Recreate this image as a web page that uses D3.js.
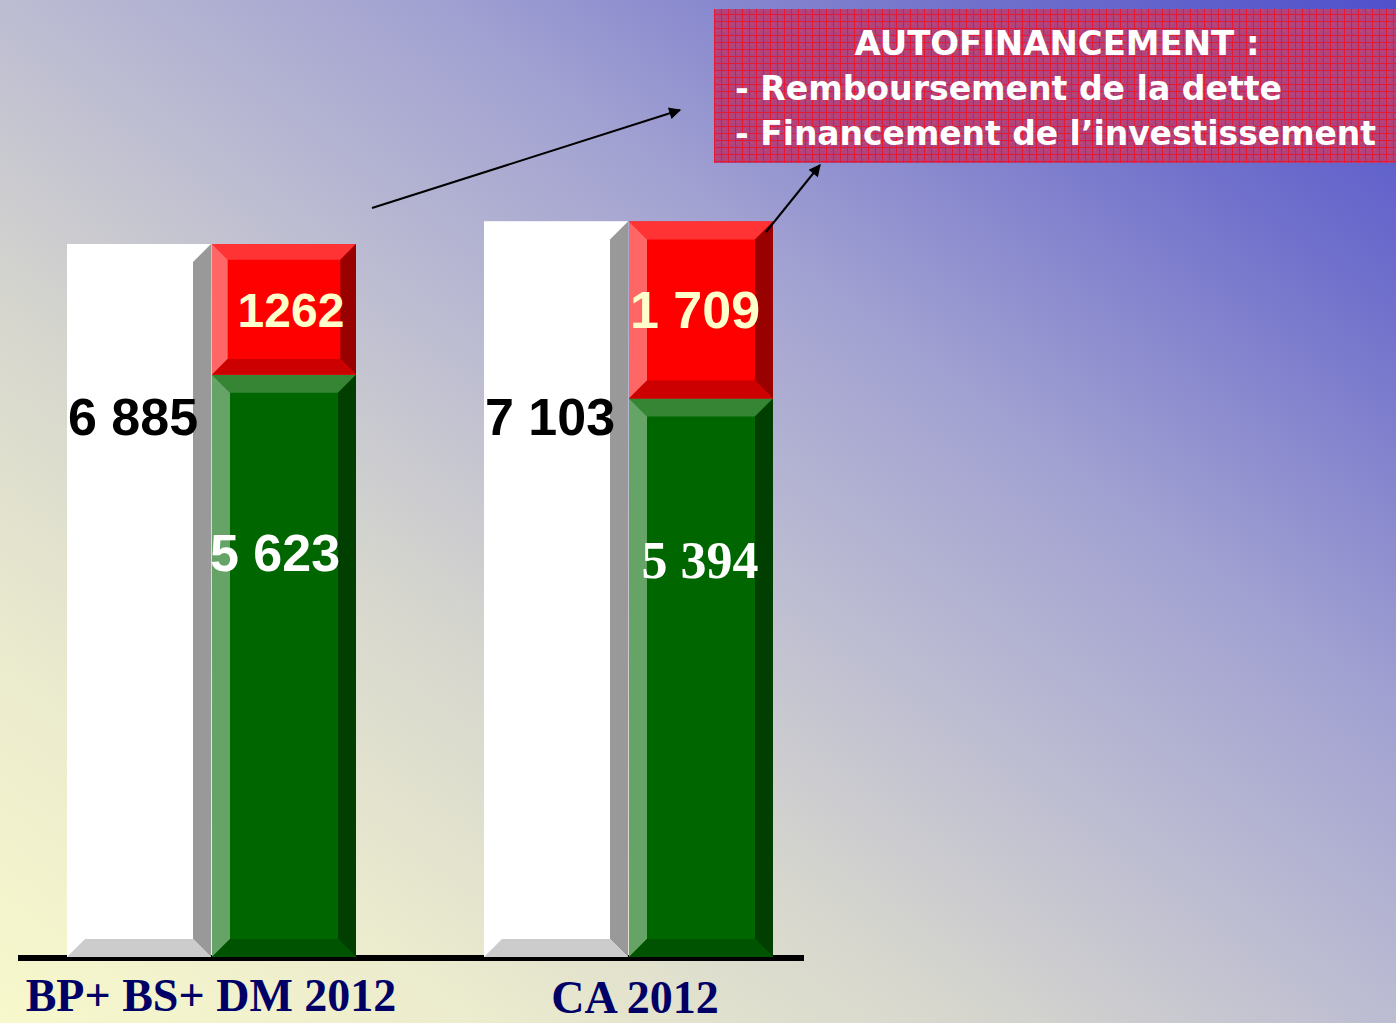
<!DOCTYPE html>
<html lang="fr">
	<head>
		<meta charset="utf-8">
		<title>autofinancement 2012</title>
		<script type="text/javascript" src="https://d3js.org/d3.v7.min.js"></script>
		<style type="text/css">
            body{margin:0;padding:0;overflow:hidden;}
            svg{display:block;}
		</style>
	</head>
	<body>
    <div id="chart1"></div>
		<script type="text/javascript">
            // data
            var categories = ["BP+ BS+ DM 2012", "CA 2012"]
            var totalValues = [6885, 7103]        // white bars
            var greenValues = [5623, 5394]        // bottom of the stacked bar
            var redValues = [1262, 1709]          // top of the stacked bar
            var totalLabels = ["6 885", "7 103"]
            var greenLabels = ["5 623", "5 394"]
            var redLabels = ["1262", "1 709"]
            var boxLines = ["AUTOFINANCEMENT :", "- Remboursement de la dette", "- Financement de l\u2019investissement"]

            var w = 1396
            var h = 1023
            var base = 957

            var svg = d3.select("#chart1")
                        .append("svg")
                        .attr("width", w)
                        .attr("height", h)

            var defs = svg.append("defs")

            // slide background, pale yellow bottom left to blue top right
            var bg = defs.append("linearGradient")
                .attr("id", "bg")
                .attr("x1", 0).attr("y1", 1).attr("x2", 1).attr("y2", 0)
            var stops = [[0, "#f8f8cc"], [0.17, "#ececce"], [0.35, "#d6d6ce"], [0.5, "#bcbcd2"], [0.65, "#a2a2d2"], [0.85, "#7070cc"], [1, "#5050cc"]]
            stops.forEach(function(s){
                bg.append("stop").attr("offset", s[0]).attr("stop-color", s[1])
            })

            // hatched fill of the note box
            var pat = defs.append("pattern")
                .attr("id", "hatch")
                .attr("patternUnits", "userSpaceOnUse")
                .attr("width", 7).attr("height", 7)
            pat.append("rect").attr("width", 7).attr("height", 7).attr("fill", "#b0427c")
            pat.append("rect").attr("x", 2).attr("y", 2).attr("width", 2).attr("height", 2).attr("fill", "#bc4676")
            pat.append("rect").attr("x", 5).attr("y", 5).attr("width", 1).attr("height", 1).attr("fill", "#9c4c98")
            pat.append("rect").attr("x", 0).attr("y", 0).attr("width", 7).attr("height", 1).attr("fill", "#e41a34")
            pat.append("rect").attr("x", 0).attr("y", 0).attr("width", 1).attr("height", 7).attr("fill", "#e41a34")

            defs.append("marker")
                .attr("id", "arrow")
                .attr("viewBox", "0 0 10 10")
                .attr("refX", 9).attr("refY", 5)
                .attr("markerWidth", 16).attr("markerHeight", 12)
                .attr("markerUnits", "userSpaceOnUse")
                .attr("orient", "auto")
                .append("path")
                .attr("d", "M0,0 L10,5 L0,10 z")
                .attr("fill", "#000")

            svg.append("rect")
                .attr("width", w).attr("height", h)
                .attr("fill", "url(#bg)")

            // scales
            var yScale = d3.scaleLinear().domain([0, 9000]).range([base, 25])
            var xScale = d3.scaleBand().domain(categories).range([67, 67 + 417 * 2])
            var inner = d3.scaleBand().domain(["total", "stack"]).range([0, 290])
            var bw = inner.bandwidth() - 1

            // baseline
            svg.append("rect")
                .attr("x", 18).attr("y", 955)
                .attr("width", 786).attr("height", 6)
                .attr("fill", "#000")

            // bevelled bar like the powerpoint 3D look
            function bevelBar(g, x, y0, y1, col){
                var bh = y1 - y0
                var b = Math.min(18, bh * 0.12)
                var x1 = x + bw
                var faces = [
                    [[x, y0], [x1, y0], [x1 - b, y0 + b], [x + b, y0 + b], col.top],
                    [[x, y0], [x + b, y0 + b], [x + b, y1 - b], [x, y1], col.left],
                    [[x1, y0], [x1, y1], [x1 - b, y1 - b], [x1 - b, y0 + b], col.right],
                    [[x, y1], [x + b, y1 - b], [x1 - b, y1 - b], [x1, y1], col.bottom]
                ]
                g.append("rect")
                    .attr("x", x).attr("y", y0)
                    .attr("width", bw).attr("height", bh)
                    .attr("fill", col.face)
                faces.forEach(function(f){
                    g.append("path")
                        .attr("d", "M" + f.slice(0, 4).join("L") + "Z")
                        .attr("fill", f[4])
                })
            }

            var white = {face:"#ffffff", top:"#ffffff", left:"#ffffff", right:"#999999", bottom:"#cccccc"}
            var red = {face:"#ff0000", top:"#ff3333", left:"#ff6666", right:"#990000", bottom:"#cc0000"}
            var green = {face:"#006600", top:"#358535", left:"#66a366", right:"#003f00", bottom:"#005300"}

            var bars = svg.append("g").attr("class", "bars")
            categories.forEach(function(c, i){
                var xa = xScale(c) + inner("total")
                var xb = xScale(c) + inner("stack")
                bevelBar(bars, xa, yScale(totalValues[i]), yScale(0), white)
                bevelBar(bars, xb, yScale(greenValues[i]), yScale(0), green)
                bevelBar(bars, xb, yScale(greenValues[i] + redValues[i]), yScale(greenValues[i]), red)
            })

            // value labels
            var labels = svg.append("g").attr("class", "labels")
            categories.forEach(function(c, i){
                var xa = xScale(c) + inner("total")
                var xb = xScale(c) + inner("stack")
                labels.append("text")
                    .attr("x", xa + 1).attr("y", 435)
                    .attr("font-family", "Liberation Sans, Arial, sans-serif")
                    .attr("font-weight", "bold").attr("font-size", 52)
                    .attr("fill", "#000")
                    .text(totalLabels[i])
                var redMid = (yScale(greenValues[i] + redValues[i]) + yScale(greenValues[i])) / 2
                labels.append("text")
                    .attr("x", xb + bw / 2 + (i == 0 ? 7 : -6)).attr("y", redMid + 18)
                    .attr("text-anchor", "middle")
                    .attr("font-family", "Liberation Sans, Arial, sans-serif")
                    .attr("font-weight", "bold").attr("font-size", i == 0 ? 48 : 52)
                    .attr("fill", "#ffffcc")
                    .text(redLabels[i])
                labels.append("text")
                    .attr("x", xb + bw / 2 + (i == 0 ? -9 : -1)).attr("y", i == 0 ? 571 : 578)
                    .attr("text-anchor", "middle")
                    .attr("font-family", i == 0 ? "Liberation Sans, Arial, sans-serif" : "Liberation Serif, Times New Roman, serif")
                    .attr("font-weight", "bold").attr("font-size", 52)
                    .attr("fill", "#ffffff")
                    .text(greenLabels[i])
            })

            // category labels under the bars
            svg.selectAll(".cat")
                .data(categories)
                .enter()
                .append("text")
                .attr("class", "cat")
                .attr("x", function(d, i){ return xScale(d) + (i == 0 ? 144 : 151) })
                .attr("y", function(d, i){ return i == 0 ? 1011 : 1013 })
                .attr("text-anchor", "middle")
                .attr("font-family", "Liberation Serif, Times New Roman, serif")
                .attr("font-weight", "bold").attr("font-size", 46)
                .attr("fill", "#000066")
                .text(function(d){ return d })

            // note box
            svg.append("rect")
                .attr("x", 714).attr("y", 9)
                .attr("width", 682).attr("height", 154)
                .attr("fill", "url(#hatch)")
            var boxX = [1057, 735, 735]
            var boxLen = [405, 547, 641]
            var boxY = [55, 100, 145]
            boxLines.forEach(function(t, i){
                svg.append("text")
                    .attr("x", boxX[i]).attr("y", boxY[i])
                    .attr("text-anchor", i == 0 ? "middle" : "start")
                    .attr("textLength", boxLen[i])
                    .attr("lengthAdjust", "spacingAndGlyphs")
                    .attr("font-family", "DejaVu Sans, Verdana, sans-serif")
                    .attr("font-weight", "bold").attr("font-size", 34)
                    .attr("fill", "#ffffff")
                    .text(t)
            })

            // arrows to the note
            svg.append("line")
                .attr("x1", 372).attr("y1", 208).attr("x2", 680).attr("y2", 110)
                .attr("stroke", "#000").attr("stroke-width", 2)
                .attr("marker-end", "url(#arrow)")
            svg.append("line")
                .attr("x1", 766).attr("y1", 232).attr("x2", 820).attr("y2", 165)
                .attr("stroke", "#000").attr("stroke-width", 2)
                .attr("marker-end", "url(#arrow)")
		</script>
	</body>
</html>
